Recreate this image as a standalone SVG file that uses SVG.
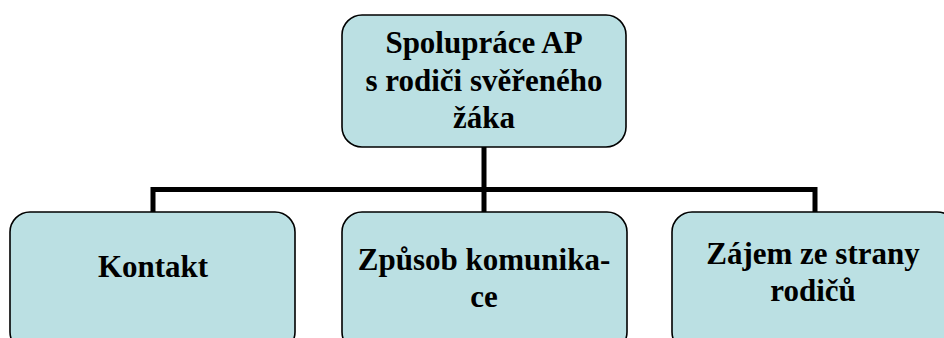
<svg xmlns="http://www.w3.org/2000/svg" width="944" height="338" viewBox="0 0 944 338">
<defs>
<rect id="bx" width="285" height="140" rx="20" fill="#BBE0E3" stroke="#000" stroke-width="1.6"/>
</defs>
<rect width="944" height="338" fill="#fff"/>
<g id="connectors" fill="none" stroke="#000" stroke-width="5">
<path d="M484 147V212M153 212V189.5H815V212"/>
</g>
<g font-family="Liberation Serif" font-weight="bold" font-size="31" text-anchor="middle" fill="#000">
<g id="root">
<rect x="342" y="15" width="284" height="132" rx="20" fill="#BBE0E3" stroke="#000" stroke-width="1.6"/>
<text x="484" y="53">Spolupráce AP</text>
<text x="484" y="90.5">s rodiči svěřeného</text>
<text x="484" y="128">žáka</text>
</g>
<g id="kontakt">
<use href="#bx" x="10" y="212"/>
<text x="153" y="277">Kontakt</text>
</g>
<g id="zpusob">
<use href="#bx" x="342" y="212"/>
<text x="484" y="270">Způsob komunika-</text>
<text x="484" y="306.5">ce</text>
</g>
<g id="zajem">
<use href="#bx" x="672" y="212"/>
<text x="813" y="264">Zájem ze strany</text>
<text x="813" y="300.5">rodičů</text>
</g>
</g>
</svg>
